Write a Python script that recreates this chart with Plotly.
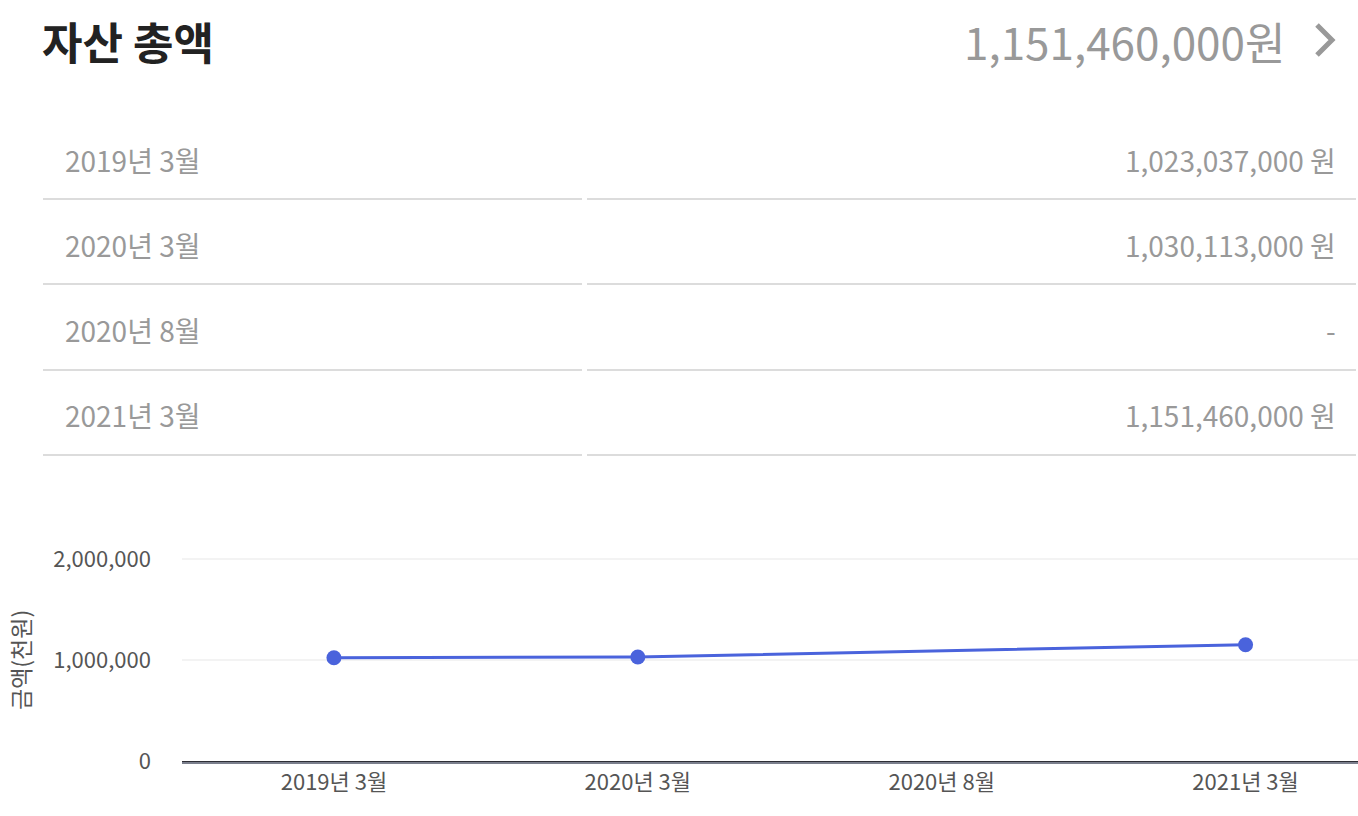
import plotly.graph_objects as go

# ---- data ----
periods = ["2019년 3월", "2020년 3월", "2020년 8월", "2021년 3월"]
amounts_thousand = [1023037, 1030113, None, 1151460]
table_values = ["1,023,037,000 원", "1,030,113,000 원", "-", "1,151,460,000 원"]
title_text = "자산 총액"
total_text = "1,151,460,000원"
y_ticks = [0, 1000000, 2000000]
y_tick_labels = ["0", "1,000,000", "2,000,000"]
y_title = "금액(천원)"

W, H = 1358, 816
MB = 55
PH = H - MB
FONT = "Noto Sans CJK KR"


def px(x):
    return x / W


def py(y):
    return (PH - y) / PH


fig = go.Figure()
fig.add_trace(go.Scatter(
    x=list(range(len(periods))), y=amounts_thousand,
    mode="lines+markers", connectgaps=True,
    line=dict(color="#4a63dc", width=3),
    marker=dict(color="#4a63dc", size=15),
    hoverinfo="skip", showlegend=False,
))

annotations = []
shapes = []

# header
annotations.append(dict(x=px(40), y=py(41), xref="paper", yref="paper", text=f"<b>{title_text}</b>",
                        showarrow=False, xanchor="left", yanchor="middle",
                        font=dict(family=FONT, size=44, color="#222222")))
annotations.append(dict(x=px(1287), y=py(41), xref="paper", yref="paper", text=total_text,
                        showarrow=False, xanchor="right", yanchor="middle",
                        font=dict(family=FONT, size=44, color="#999999")))
shapes.append(dict(type="path", xref="paper", yref="paper",
                   path=f"M {px(1317)} {py(25)} L {px(1332)} {py(40)} L {px(1317)} {py(55)}",
                   line=dict(color="#999999", width=5)))

# table
row_y = [160, 245, 330, 415]
sep_y = [199, 284, 370, 455]
for lab, val, yc, ys in zip(periods, table_values, row_y, sep_y):
    annotations.append(dict(x=px(63), y=py(yc), xref="paper", yref="paper", text=lab,
                            showarrow=False, xanchor="left", yanchor="middle",
                            font=dict(family=FONT, size=28, color="#999999")))
    annotations.append(dict(x=px(1338), y=py(yc), xref="paper", yref="paper", text=val,
                            showarrow=False, xanchor="right", yanchor="middle",
                            font=dict(family=FONT, size=28, color="#999999")))
    shapes.append(dict(type="line", xref="paper", yref="paper", x0=px(43), x1=px(582), y0=py(ys), y1=py(ys),
                       line=dict(color="#dcdcdc", width=2)))
    shapes.append(dict(type="line", xref="paper", yref="paper", x0=px(587), x1=px(1356), y0=py(ys), y1=py(ys),
                       line=dict(color="#dcdcdc", width=2)))

# axis base line (light under-line)
shapes.append(dict(type="line", xref="paper", yref="paper", x0=px(182), x1=1, y0=py(763), y1=py(763),
                   line=dict(color="#c8d0e4", width=1)))

annotations.append(dict(x=px(20), y=py(660), xref="paper", yref="paper", text=y_title,
                        showarrow=False, textangle=-90, xanchor="center", yanchor="middle",
                        font=dict(family=FONT, size=23, color="#555555")))

fig.update_layout(
    width=W, height=H,
    margin=dict(l=0, r=0, t=0, b=MB, autoexpand=False),
    paper_bgcolor="white", plot_bgcolor="white",
    font=dict(family=FONT, color="#555555"),
    annotations=annotations, shapes=shapes,
    xaxis=dict(domain=[px(182), 1], range=[-0.5, 3.37], automargin=False,
               tickmode="array", tickvals=list(range(len(periods))), ticktext=periods,
               showgrid=False, zeroline=False, showline=True, linecolor="#2e2e36", linewidth=3,
               ticks="", tickfont=dict(family=FONT, size=22, color="#555555")),
    yaxis=dict(domain=[0, py(554)], range=[0, 2050000], automargin=False,
               tickmode="array", tickvals=y_ticks, ticktext=y_tick_labels,
               showgrid=True, gridcolor="#f3f3f3", gridwidth=2, zeroline=False,
               showline=False, ticks="", ticklabelstandoff=30,
               tickfont=dict(family=FONT, size=22, color="#555555")),
)

fig.write_html("out.html", config={"displayModeBar": False},
               post_script="document.body.style.margin='0';document.body.style.overflow='hidden';")
